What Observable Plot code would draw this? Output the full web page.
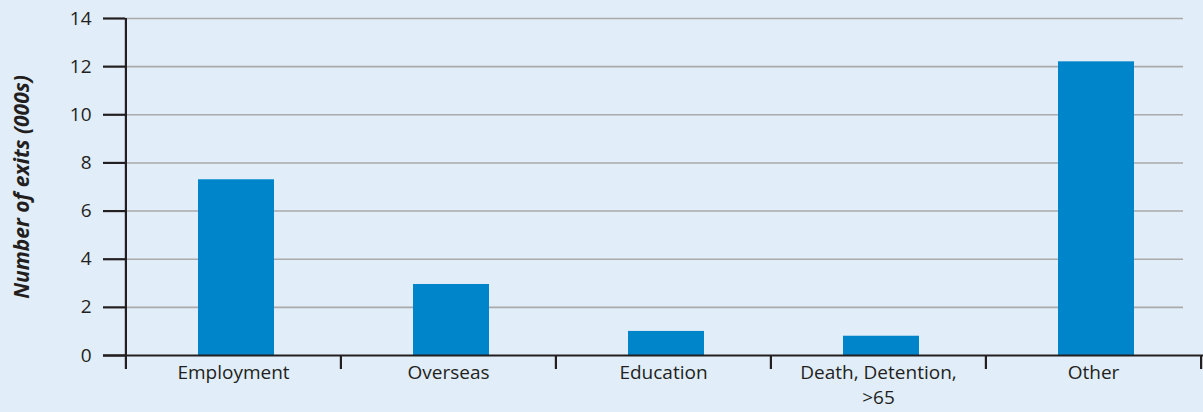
<!DOCTYPE html>
<html>
<head>
<meta charset="utf-8">
<script src="https://cdn.jsdelivr.net/npm/d3@7"></script>
<script src="https://cdn.jsdelivr.net/npm/@observablehq/plot@0.6"></script>
<style>
  html, body { margin: 0; padding: 0; background: #e1edf8; }
  #chart svg { display: block; }
</style>
</head>
<body>
<div id="chart"></div>
<script>
const categories = ["Employment", "Overseas", "Education", "Death, Detention, >65", "Other"];
const values = [7.3, 2.95, 1.0, 0.8, 12.2];
const yTicks = [0, 2, 4, 6, 8, 10, 12, 14];
const yLabel = "Number of exits (000s)";
const tickLabels = ["Employment", "Overseas", "Education", "Death, Detention,\n>65", "Other"];

const data = categories.map((c, i) => ({category: c, value: values[i]}));

const W = 1203, H = 412;
const mL = 125, mR = 2, mT = 18, mB = 57;
const step = (W - mL - mR) / categories.length;
const pxPerUnit = (H - mT - mB) / 14;
const tickBelow = -14 / pxPerUnit;
const ink = "#231f20";
const font = "'Open Sans', Roboto, sans-serif";

const chart = Plot.plot({
  width: W,
  height: H,
  marginLeft: mL,
  marginRight: mR,
  marginTop: mT,
  marginBottom: mB,
  style: {background: "#e1edf8", fontFamily: font, color: ink},
  x: {domain: categories, paddingInner: 0.646, paddingOuter: 0.323, align: 0.5},
  y: {domain: [0, 14]},
  marks: [
    Plot.ruleY(yTicks.filter(d => d > 0), {stroke: "#aaaaaa", strokeWidth: 1.6, insetRight: 18}),
    Plot.barY(data, {x: "category", y: "value", fill: "#0085cb", dx: 3}),
    Plot.axisY(yTicks, {tickSize: 22, tickPadding: 12, stroke: ink, strokeWidth: 2.2, fontSize: 19, fill: ink, label: null}),
    Plot.axisX({tickSize: 0, tickPadding: 6, fontSize: 19, fill: ink, lineHeight: 1.3, label: null,
      tickFormat: d => tickLabels[categories.indexOf(d)]}),
    Plot.ruleY([0], {stroke: ink, strokeWidth: 2.2, insetLeft: -22, insetRight: -2}),
    Plot.ruleX(categories, {x: d => d, dx: -step / 2, y1: d => d === categories[0] ? 14 : 0, y2: tickBelow, stroke: ink, strokeWidth: 2.2}),
    Plot.ruleX([categories[categories.length - 1]], {x: d => d, dx: step / 2, y1: 0, y2: tickBelow, stroke: ink, strokeWidth: 2.2}),
    Plot.text([yLabel], {frameAnchor: "left", textAnchor: "middle", rotate: -90, dx: -103, text: d => d, fontSize: 21, fontWeight: "bold", fontStyle: "italic", fill: ink})
  ]
});
document.getElementById("chart").appendChild(chart);
</script>
</body>
</html>
